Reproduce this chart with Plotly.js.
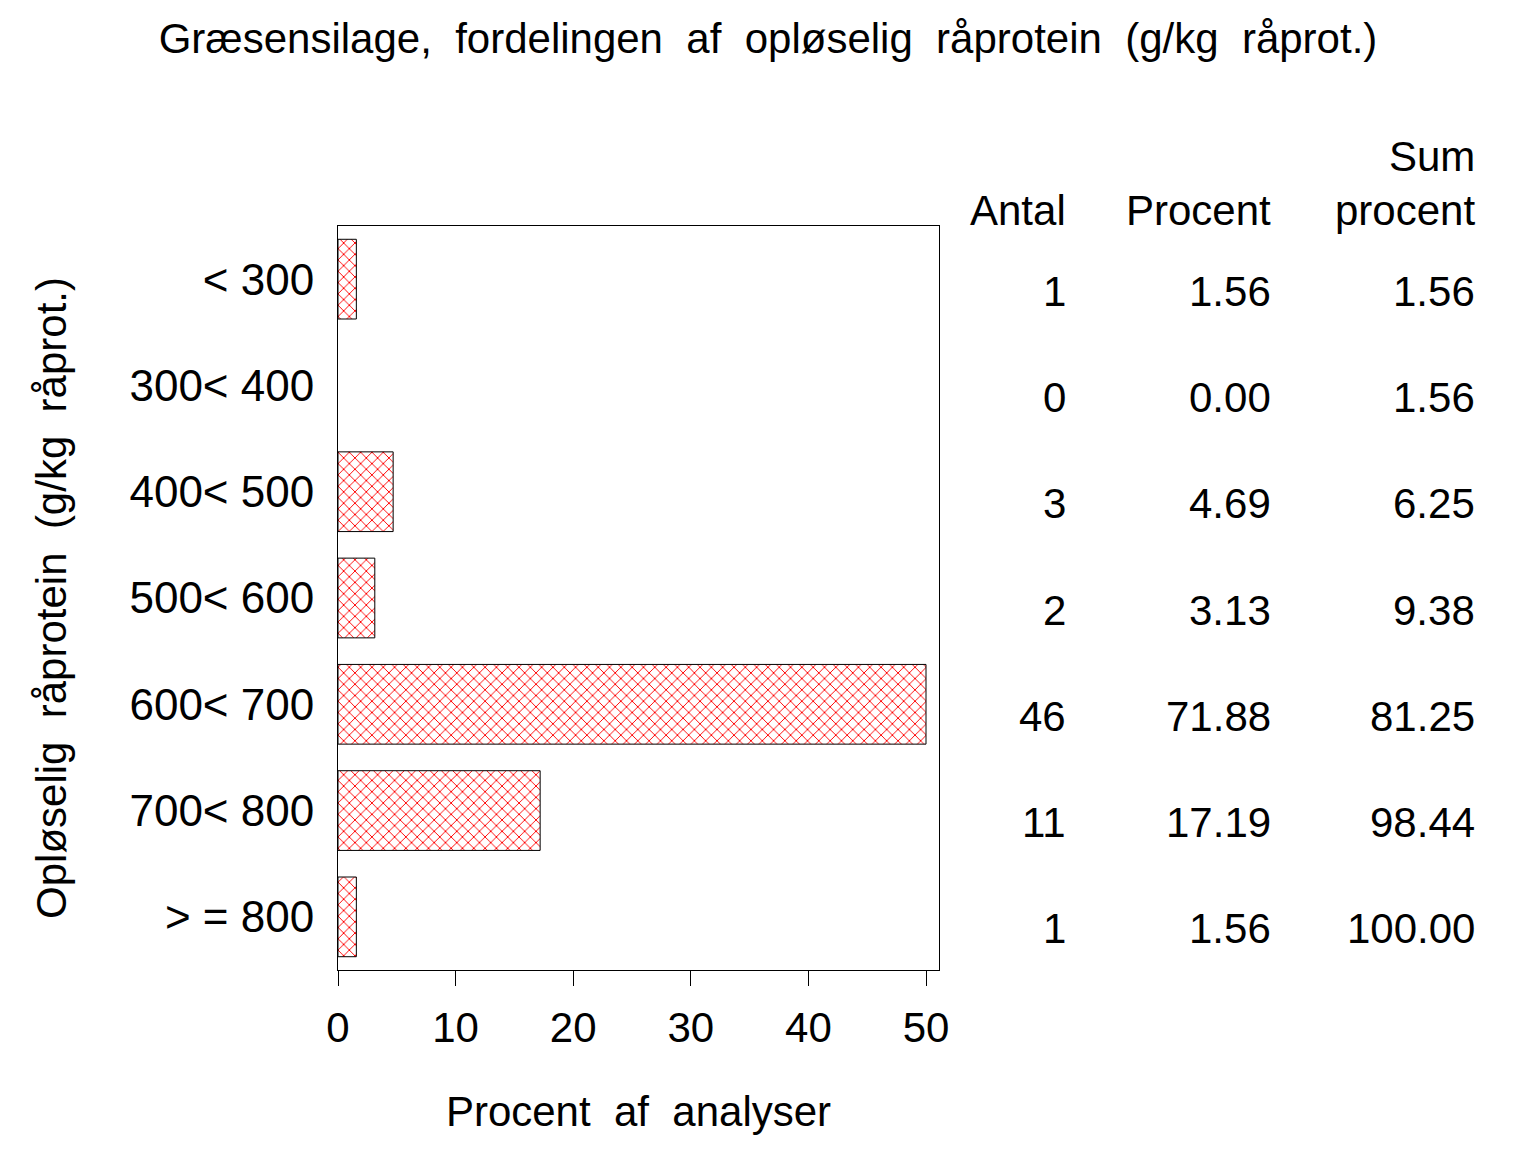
<!DOCTYPE html>
<html>
<head>
<meta charset="utf-8">
<script src="https://cdn.plot.ly/plotly-3.0.1.min.js"></script>
<style>
  body { margin: 0; background: #fff; }
  #myDiv { width: 1536px; height: 1152px; }
</style>
</head>
<body>
<div id="myDiv"></div>
<script>
// Kategorier (opløselig råprotein, g/kg råprot.)
const kategorier = ["<\u00A0300", "300<\u00A0400", "400<\u00A0500", "500<\u00A0600", "600<\u00A0700", "700<\u00A0800", ">\u00A0=\u00A0800"];
const antal = [1, 0, 3, 2, 46, 11, 1];
const procent = [1.56, 0.00, 4.69, 3.13, 71.88, 17.19, 1.56];
const sumProcent = [1.56, 1.56, 6.25, 9.38, 81.25, 98.44, 100.00];
const xTicks = [0, 10, 20, 30, 40, 50];

const fontFam = "Liberation Sans, Arial, sans-serif";
const sp = "\u00A0 "; // dobbelt mellemrum som i originalen

// Søjlerne klippes ved aksens sidste tick, som i SAS
const aksMax = xTicks[xTicks.length - 1];
const visProcent = procent.map(v => Math.min(v, aksMax));

// plotområde i pixels
const W = 1536, H = 1152;
const plotL = 338, plotR = 939, plotT = 226, plotB = 970;
const px2x = px => (px - plotL) / (plotR - plotL);
const px2y = py => (plotB - py) / (plotB - plotT);

const trace = {
  type: "bar",
  orientation: "h",
  x: visProcent,
  y: kategorier,
  width: 0.75,
  marker: {
    color: "white",
    // ingen kant på tomme søjler
    line: { color: "black", width: procent.map(v => v > 0 ? 1 : 0) },
    pattern: { shape: "x", fgcolor: "#ff0000", bgcolor: "white", size: 8, solidity: 0.22, fillmode: "replace" }
  },
  hoverinfo: "x+y"
};

const annotations = [];
// kolonneoverskrifter
const kolX = [1068, 1273, 1477];
annotations.push({ text: "Sum", x: px2x(kolX[2]), y: px2y(157) });
annotations.push({ text: "Antal", x: px2x(kolX[0]), y: px2y(211) });
annotations.push({ text: "Procent", x: px2x(kolX[1]), y: px2y(211) });
annotations.push({ text: "procent", x: px2x(kolX[2]), y: px2y(211) });
annotations.forEach(a => { a.xref = "paper"; a.yref = "paper"; });

// tabelrækker
kategorier.forEach((k, i) => {
  const kol = [String(antal[i]), procent[i].toFixed(2), sumProcent[i].toFixed(2)];
  kol.forEach((t, j) => {
    annotations.push({ text: t, x: px2x(kolX[j]), xref: "paper", y: k, yref: "y", yshift: -12 });
  });
});
annotations.forEach(a => {
  a.showarrow = false;
  a.xanchor = "right";
  a.yanchor = "middle";
  a.font = { family: fontFam, size: 42, color: "black" };
});

const layout = {
  width: W,
  height: H,
  paper_bgcolor: "white",
  plot_bgcolor: "white",
  showlegend: false,
  margin: { l: plotL, r: W - plotR, t: plotT, b: H - plotB, pad: 0 },
  font: { family: fontFam, size: 42, color: "black" },
  title: {
    text: "Græsensilage," + sp + "fordelingen" + sp + "af" + sp + "opløselig" + sp + "råprotein" + sp + "(g/kg" + sp + "råprot.)",
    font: { family: fontFam, size: 42, color: "black" },
    x: 0.5, xanchor: "center",
    y: 1 - 38 / H, yref: "container", yanchor: "middle"
  },
  xaxis: {
    range: [0, aksMax * (plotR - plotL) / (926 - plotL)],
    tickvals: xTicks,
    ticktext: xTicks.map(String),
    ticks: "outside",
    ticklen: 15,
    tickwidth: 1,
    tickcolor: "black",
    ticklabelstandoff: 6,
    tickfont: { family: fontFam, size: 42, color: "black" },
    showline: true, mirror: true, linecolor: "black", linewidth: 1,
    showgrid: false, zeroline: false,
    title: { text: "Procent" + sp + "af" + sp + "analyser", font: { family: fontFam, size: 42, color: "black" }, standoff: 46 }
  },
  yaxis: {
    type: "category",
    range: [kategorier.length - 0.5, -0.5],
    ticks: "",
    ticklabelstandoff: 14,
    tickfont: { family: fontFam, size: 44, color: "black" },
    showline: true, mirror: true, linecolor: "black", linewidth: 1,
    showgrid: false, zeroline: false,
    title: { text: "Opløselig" + sp + "råprotein" + sp + "(g/kg" + sp + "råprot.)", font: { family: fontFam, size: 42, color: "black" }, standoff: 49 }
  },
  annotations: annotations
};

Plotly.newPlot("myDiv", [trace], layout, { displayModeBar: false, responsive: false });
</script>
</body>
</html>
